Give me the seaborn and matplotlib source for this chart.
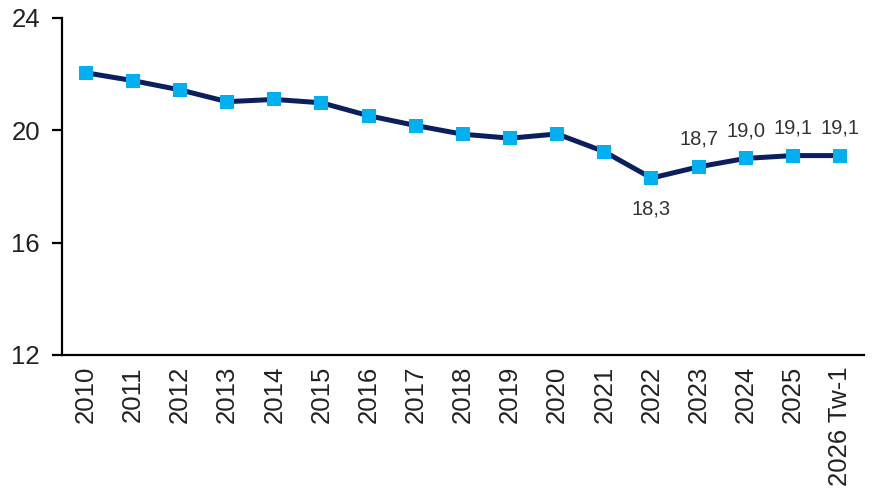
import matplotlib
matplotlib.use("Agg")
import matplotlib.pyplot as plt
import seaborn as sns
import pandas as pd

periods = ["2010", "2011", "2012", "2013", "2014", "2015", "2016", "2017",
           "2018", "2019", "2020", "2021", "2022", "2023", "2024", "2025",
           "2026 Tw-1"]
values = [22.05, 21.77, 21.44, 21.02, 21.10, 20.98, 20.52, 20.17,
          19.86, 19.72, 19.87, 19.24, 18.3, 18.7, 19.0, 19.1, 19.1]
# which points carry a value label, and whether it sits below the point
labelled = {12: "below", 13: "above", 14: "above", 15: "above", 16: "above"}
y_ticks = [12, 16, 20, 24]

sns.set_theme(style="white")
plt.rcParams["font.family"] = ["Liberation Sans", "DejaVu Sans"]

df = pd.DataFrame({"period": periods, "value": values})
df["pos"] = range(len(df))

fig = plt.figure(figsize=(8.75, 4.93), dpi=100)
ax = fig.add_axes([0.071, 0.28, 0.916, 0.6835])

sns.lineplot(data=df, x="pos", y="value", ax=ax, color="#0b1f5e",
             linewidth=3.6, marker="s", markersize=10.5,
             markerfacecolor="#00b0f0", markeredgewidth=0, zorder=3)

for i, where in labelled.items():
    v = values[i]
    txt = f"{v:.1f}".replace(".", ",")
    dy = -22 if where == "below" else 20
    ax.annotate(txt, (i, v), xytext=(0, dy), textcoords="offset points",
                ha="center", va="center", fontsize=14.5, color="#333333")

ax.set_xlim(-0.5, len(periods) - 0.5)
ax.set_ylim(12, 24)
ax.set_yticks(y_ticks)
ax.set_xticks(range(len(periods)))
ax.set_xticklabels(periods, rotation=90, fontsize=18.5, color="#222222")
ax.tick_params(axis="y", labelsize=18.5, labelcolor="#222222", length=7,
               width=1.6, color="black", direction="out", left=True, pad=9)
ax.tick_params(axis="x", length=0, pad=8)
ax.set_xlabel("")
ax.set_ylabel("")

for side in ("top", "right"):
    ax.spines[side].set_visible(False)
for side in ("left", "bottom"):
    ax.spines[side].set_color("black")
    ax.spines[side].set_linewidth(1.6)

fig.savefig("out.png", dpi=100)
